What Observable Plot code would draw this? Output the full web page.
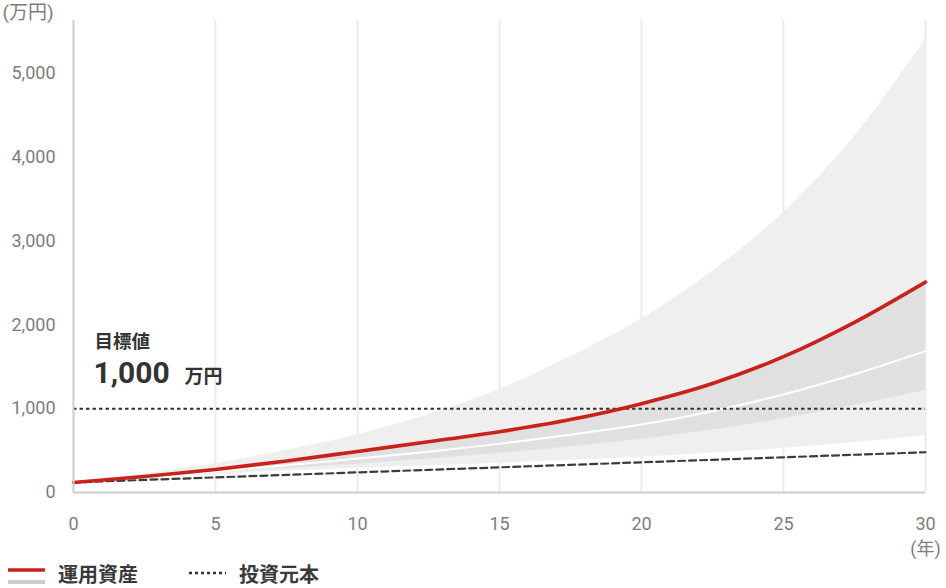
<!DOCTYPE html>
<html>
<head>
<meta charset="utf-8">
<script src="https://cdn.jsdelivr.net/npm/d3@7"></script>
<script src="https://cdn.jsdelivr.net/npm/@observablehq/plot@0.6"></script>
<style>
  html, body { margin: 0; padding: 0; background: #fff; }
  #wrap { position: relative; width: 946px; height: 588px; overflow: hidden; }
  #legend { position: absolute; left: 0; top: 555px; width: 946px; height: 33px; }
  #legend text { font-family: "Noto Sans CJK JP", sans-serif; font-weight: bold; font-size: 20px; fill: #3a3a3a; }
</style>
</head>
<body>
<div id="wrap">
  <div id="chart"></div>
  <svg id="legend" width="946" height="33"></svg>
</div>
<script>
// ---- data (万円) ----
const years     = [0, 2.5, 5, 7.5, 10, 12.5, 15, 17.5, 20, 22.5, 25, 27.5, 30];
const expected  = [120, 190, 275, 375, 490, 605, 725, 870, 1060, 1300, 1620, 2030, 2510];
const median    = [120, 180, 250, 325, 405, 485, 580, 690, 810, 970, 1170, 1410, 1686];
const innerLow  = [120, 175, 235, 285, 340, 400, 465, 545, 635, 745, 880, 1040, 1217];
const outerLow  = [120, 165, 215, 255, 290, 320, 350, 385, 420, 470, 525, 595, 680];
const outerUp   = [120, 225, 345, 505, 690, 930, 1230, 1620, 2070, 2640, 3340, 4250, 5410];
const principal = [120, 150, 180, 210, 240, 270, 300, 330, 360, 390, 420, 450, 480];
const target = 1000;
const xTicks = [0, 5, 10, 15, 20, 25, 30];
const yTicks = [0, 1000, 2000, 3000, 4000, 5000];
const gridYears = [5, 10, 15, 20, 25, 30];

const table = years.map((year, i) => ({
  year, expected: expected[i], median: median[i], innerLow: innerLow[i],
  outerLow: outerLow[i], outerUp: outerUp[i], principal: principal[i]
}));

const curve = "monotone-x";
const chart = Plot.plot({
  width: 946,
  height: 555,
  marginTop: 20,
  marginLeft: 73,
  marginRight: 21,
  marginBottom: 63,
  x: { domain: [0, 30] },
  y: { domain: [0, 5630] },
  style: { fontFamily: "Roboto, 'Noto Sans CJK JP', sans-serif", fontSize: "18px", color: "#7d7d7d", background: "white", overflow: "visible" },
  marks: [
    Plot.ruleX(gridYears, { stroke: "#ebebeb", strokeWidth: 2 }),
    Plot.areaY(table, { x: "year", y1: "outerLow", y2: "outerUp", fill: "#efefef", curve }),
    Plot.areaY(table, { x: "year", y1: "innerLow", y2: "expected", fill: "#e0e0e0", curve }),
    Plot.lineY(table, { x: "year", y: "median", stroke: "white", strokeWidth: 2, curve }),
    Plot.ruleY([target], { stroke: "#333", strokeWidth: 2, strokeDasharray: "3.5,3" }),
    Plot.lineY(table, { x: "year", y: "principal", stroke: "#3c3c3c", strokeWidth: 2.2, strokeDasharray: "7,4" }),
    Plot.lineY(table, { x: "year", y: "expected", stroke: "#c9211b", strokeWidth: 3.6, curve }),
    Plot.ruleX([0], { stroke: "#cccccc", strokeWidth: 2 }),
    Plot.ruleY([0], { stroke: "#cccccc", strokeWidth: 2 }),
    Plot.axisX({ ticks: xTicks, tickSize: 0, tickPadding: 25, label: null }),
    Plot.axisY({ ticks: yTicks, tickSize: 0, tickPadding: 18, tickFormat: d3.format(","), label: null }),
    Plot.text(["(万円)"], { frameAnchor: "top-left", lineAnchor: "middle", textAnchor: "start", dx: -71, dy: -8, text: d => d, fontSize: 19, fill: "#7d7d7d" }),
    Plot.text(["(年)"], { frameAnchor: "bottom-right", lineAnchor: "middle", textAnchor: "middle", dx: 0, dy: 57, text: d => d, fontSize: 18, fill: "#7d7d7d" }),
    Plot.text([target], { x: () => 0, y: d => d, text: () => "目標値", textAnchor: "start", dx: 21, dy: -67, fontSize: 18.5, fontWeight: "bold", fill: "#333", fontFamily: "'Noto Sans CJK JP', sans-serif" }),
    Plot.text([target], { x: () => 0, y: d => d, text: d => d3.format(",")(d), textAnchor: "start", dx: 20, dy: -35, fontSize: 30, fontWeight: "bold", fill: "#333", fontFamily: "Roboto, sans-serif" }),
    Plot.text([target], { x: () => 0, y: d => d, text: () => "万円", textAnchor: "start", dx: 111, dy: -32, fontSize: 19, fontWeight: "bold", fill: "#333", fontFamily: "'Noto Sans CJK JP', sans-serif" })
  ]
});
document.getElementById("chart").appendChild(chart);

// ---- legend ----
const lg = d3.select("#legend");
lg.append("line").attr("x1", 8).attr("x2", 45).attr("y1", 15).attr("y2", 15).attr("stroke", "#c9211b").attr("stroke-width", 3.5);
lg.append("line").attr("x1", 8).attr("x2", 45).attr("y1", 27).attr("y2", 27).attr("stroke", "#cccccc").attr("stroke-width", 4);
lg.append("text").attr("x", 58).attr("y", 20).attr("dy", "0.35em").text("運用資産");
lg.append("line").attr("x1", 189).attr("x2", 226).attr("y1", 18).attr("y2", 18).attr("stroke", "#333").attr("stroke-width", 2.5).attr("stroke-dasharray", "3,3");
lg.append("text").attr("x", 239).attr("y", 20).attr("dy", "0.35em").text("投資元本");
</script>
</body>
</html>
